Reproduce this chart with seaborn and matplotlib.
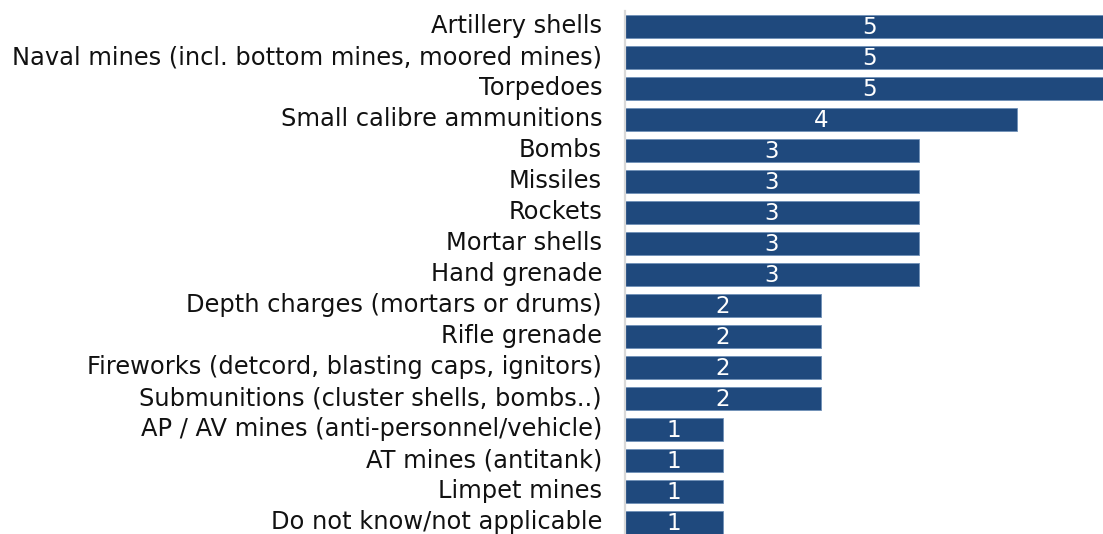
import matplotlib
matplotlib.use("Agg")
import matplotlib.pyplot as plt
import matplotlib.transforms as mtransforms
import seaborn as sns
import pandas as pd

categories = [
    "Artillery shells",
    "Naval mines (incl. bottom mines, moored mines)",
    "Torpedoes",
    "Small calibre ammunitions",
    "Bombs",
    "Missiles",
    "Rockets",
    "Mortar shells",
    "Hand grenade",
    "Depth charges (mortars or drums)",
    "Rifle grenade",
    "Fireworks (detcord, blasting caps, ignitors)",
    "Submunitions (cluster shells, bombs..)",
    "AP / AV mines (anti-personnel/vehicle)",
    "AT mines (antitank)",
    "Limpet mines",
    "Do not know/not applicable",
]
counts = [5, 5, 5, 4, 3, 3, 3, 3, 3, 2, 2, 2, 2, 1, 1, 1, 1]

df = pd.DataFrame({"category": categories, "count": counts})

sns.set_theme(style="white")
plt.rcParams["font.family"] = ["DejaVu Sans"]

BAR = "#1f497d"
W, H, DPI = 1103, 534, 100
fig = plt.figure(figsize=(W / DPI, H / DPI), dpi=DPI)
ax = fig.add_axes([625 / W, 0, 1 - 625 / W, (H - 11) / H])

sns.barplot(data=df, x="count", y="category", orient="h", color=BAR,
            saturation=1, width=0.74, edgecolor="#7090b8", linewidth=0.6, ax=ax)

for i, v in enumerate(counts):
    ax.text(v / 2, i + 0.04, str(v), ha="center", va="center", color="white",
            fontsize=16.5, clip_on=False)

ax.set_xlim(0, 4.88)
ax.set_ylim(16.37, -0.5)
ax.set_xlabel("")
ax.set_ylabel("")
ax.set_xticks([])
ax.tick_params(axis="y", length=0, pad=16.5, labelsize=17.4, labelcolor="#111111")

# nudge category labels up a touch so the bottom one stays inside the figure
shift = mtransforms.ScaledTranslation(0, 2 / 72, fig.dpi_scale_trans)
for lbl in ax.get_yticklabels():
    lbl.set_transform(lbl.get_transform() + shift)

for s in ["top", "right", "bottom"]:
    ax.spines[s].set_visible(False)
ax.spines["left"].set_color("#d9d9d9")
ax.spines["left"].set_linewidth(1.6)

fig.savefig("out.png", dpi=DPI)
